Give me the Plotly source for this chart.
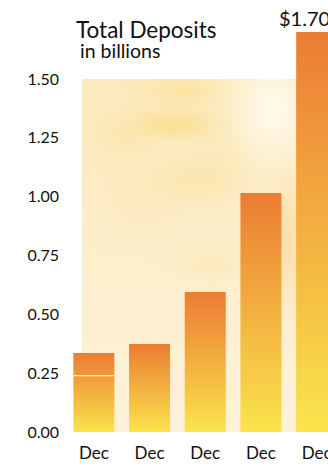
import numpy as np
import zlib, struct, base64
import plotly.graph_objects as go

# ---------------- data ----------------
categories = ["Dec<br>'03", "Dec<br>'04", "Dec<br>'05", "Dec<br>'06", "Dec<br>'07"]
deposits = [0.336, 0.374, 0.595, 1.016, 1.70]
y_tick_vals = [0.0, 0.25, 0.5, 0.75, 1.0, 1.25, 1.5]
y_tick_text = ["0.00", "0.25", "0.50", "0.75", "1.00", "1.25", "1.50"]
last_label = "$1.70"

# ---------------- layout geometry ----------------
W, H = 328, 466
ML, MR, MT, MB = 66, 0, 20, 34
plot_w = W - ML - MR
plot_h = H - MT - MB
px_per_cat = 55.7
x_range = [-0.5, -0.5 + plot_w / px_per_cat]
px_per_unit = (432 - 79) / 1.5
y_range = [0, plot_h / px_per_unit]
half_w = 0.368

ORANGE = "#EB7C34"
YELLOW = "#FAE44C"
FONT = "Lato"


# ---------------- background texture (decorative) ----------------
def png_data_uri(img):
    h, w, _ = img.shape
    raw = b"".join(b"\x00" + img[r].tobytes() for r in range(h))

    def chunk(t, d):
        c = struct.pack(">I", len(d)) + t + d
        return c + struct.pack(">I", zlib.crc32(t + d) & 0xFFFFFFFF)

    png = (b"\x89PNG\r\n\x1a\n"
           + chunk(b"IHDR", struct.pack(">IIBBBBB", w, h, 8, 2, 0, 0, 0))
           + chunk(b"IDAT", zlib.compress(raw, 9))
           + chunk(b"IEND", b""))
    return "data:image/png;base64," + base64.b64encode(png).decode()


BW, BH = 246, 353
yy, xx = np.mgrid[0:BH, 0:BW].astype(float)
top_c = np.array([252, 234, 188], float)
mid_c = np.array([253, 238, 204], float)
bot_c = np.array([254, 242, 218], float)
t = np.clip(yy / 170.0, 0, 1)[..., None]
t2 = np.clip((yy - 170) / 183.0, 0, 1)[..., None]
img = top_c * (1 - t) + mid_c * t
img = img * (1 - t2) + bot_c * t2
blobs = [
    # cx, cy, sx, sy, color, weight
    (92, 45, 30, 10, (249, 218, 130), 0.65),
    (103, 12, 24, 9, (250, 222, 145), 0.55),
    (40, 60, 22, 14, (251, 226, 160), 0.35),
    (115, 100, 30, 15, (250, 224, 150), 0.45),
    (60, 125, 30, 25, (252, 230, 170), 0.25),
    (150, 70, 20, 20, (251, 226, 160), 0.3),
    (190, 30, 28, 38, (255, 251, 236), 0.9),
    (200, 120, 20, 20, (253, 234, 190), 0.4),
    (207, 165, 8, 35, (250, 210, 140), 0.5),
    (130, 185, 25, 12, (251, 228, 160), 0.3),
    (240, 300, 10, 40, (253, 236, 205), 0.4),
]
for cx, cy, sx, sy, col, wgt in blobs:
    g = wgt * np.exp(-(((xx - cx) / sx) ** 2 + ((yy - cy) / sy) ** 2) / 2)[..., None]
    img = img * (1 - g) + np.array(col, float) * g
bg_uri = png_data_uri(np.clip(img, 0, 255).astype(np.uint8))

# ---------------- figure ----------------
fig = go.Figure()
for i, v in enumerate(deposits):
    fig.add_trace(go.Scatter(
        x=[i - half_w, i + half_w, i + half_w, i - half_w, i - half_w],
        y=[0, 0, v, v, 0],
        mode="lines",
        line=dict(width=0, color=ORANGE),
        fill="toself",
        fillgradient=dict(type="vertical", colorscale=[[0, YELLOW], [1, ORANGE]]),
        hoverinfo="skip",
        showlegend=False,
    ))

fig.add_shape(type="line", x0=-half_w, x1=half_w, y0=0.239, y1=0.239,
              xref="x", yref="y", line=dict(color="white", width=1.2))

fig.add_layout_image(dict(
    source=bg_uri, xref="paper", yref="y",
    x=(82 - ML) / plot_w, y=1.5, sizex=(W - 82) / plot_w, sizey=1.5,
    sizing="stretch", layer="below", xanchor="left", yanchor="top",
))

fig.add_annotation(text="Total Deposits", xref="paper", yref="paper",
                   x=(74 - ML) / plot_w, y=(H - MB - 30) / plot_h,
                   xanchor="left", yanchor="middle", showarrow=False,
                   font=dict(family=FONT, size=22.5, color="#111111"))
fig.add_annotation(text="in billions", xref="paper", yref="paper",
                   x=(78 - ML) / plot_w, y=(H - MB - 51) / plot_h,
                   xanchor="left", yanchor="middle", showarrow=False,
                   font=dict(family=FONT, size=19.5, color="#111111"))
fig.add_annotation(text=last_label, xref="x", yref="y",
                   x=len(deposits) - 1, y=deposits[-1], xshift=-40, yshift=0,
                   xanchor="left", yanchor="bottom", showarrow=False,
                   font=dict(family=FONT, size=20, color="#111111"))

fig.update_layout(
    width=W, height=H,
    margin=dict(l=ML, r=MR, t=MT, b=MB, pad=0, autoexpand=False),
    paper_bgcolor="white", plot_bgcolor="white",
    font=dict(family=FONT, color="#111111"),
    showlegend=False,
)
fig.update_xaxes(range=x_range, tickvals=list(range(len(categories))), ticktext=categories,
                 showgrid=False, zeroline=False, showline=False, ticks="",
                 tickfont=dict(size=17), automargin=False, fixedrange=True,
                 ticklabelstandoff=9, ticklabeloverflow="allow")
fig.update_yaxes(range=y_range, tickvals=y_tick_vals, ticktext=y_tick_text,
                 showgrid=False, zeroline=False, showline=False, ticks="",
                 tickfont=dict(size=16), automargin=False, fixedrange=True,
                 ticklabelstandoff=6)

fig.write_html("out.html", config={"displayModeBar": False})
